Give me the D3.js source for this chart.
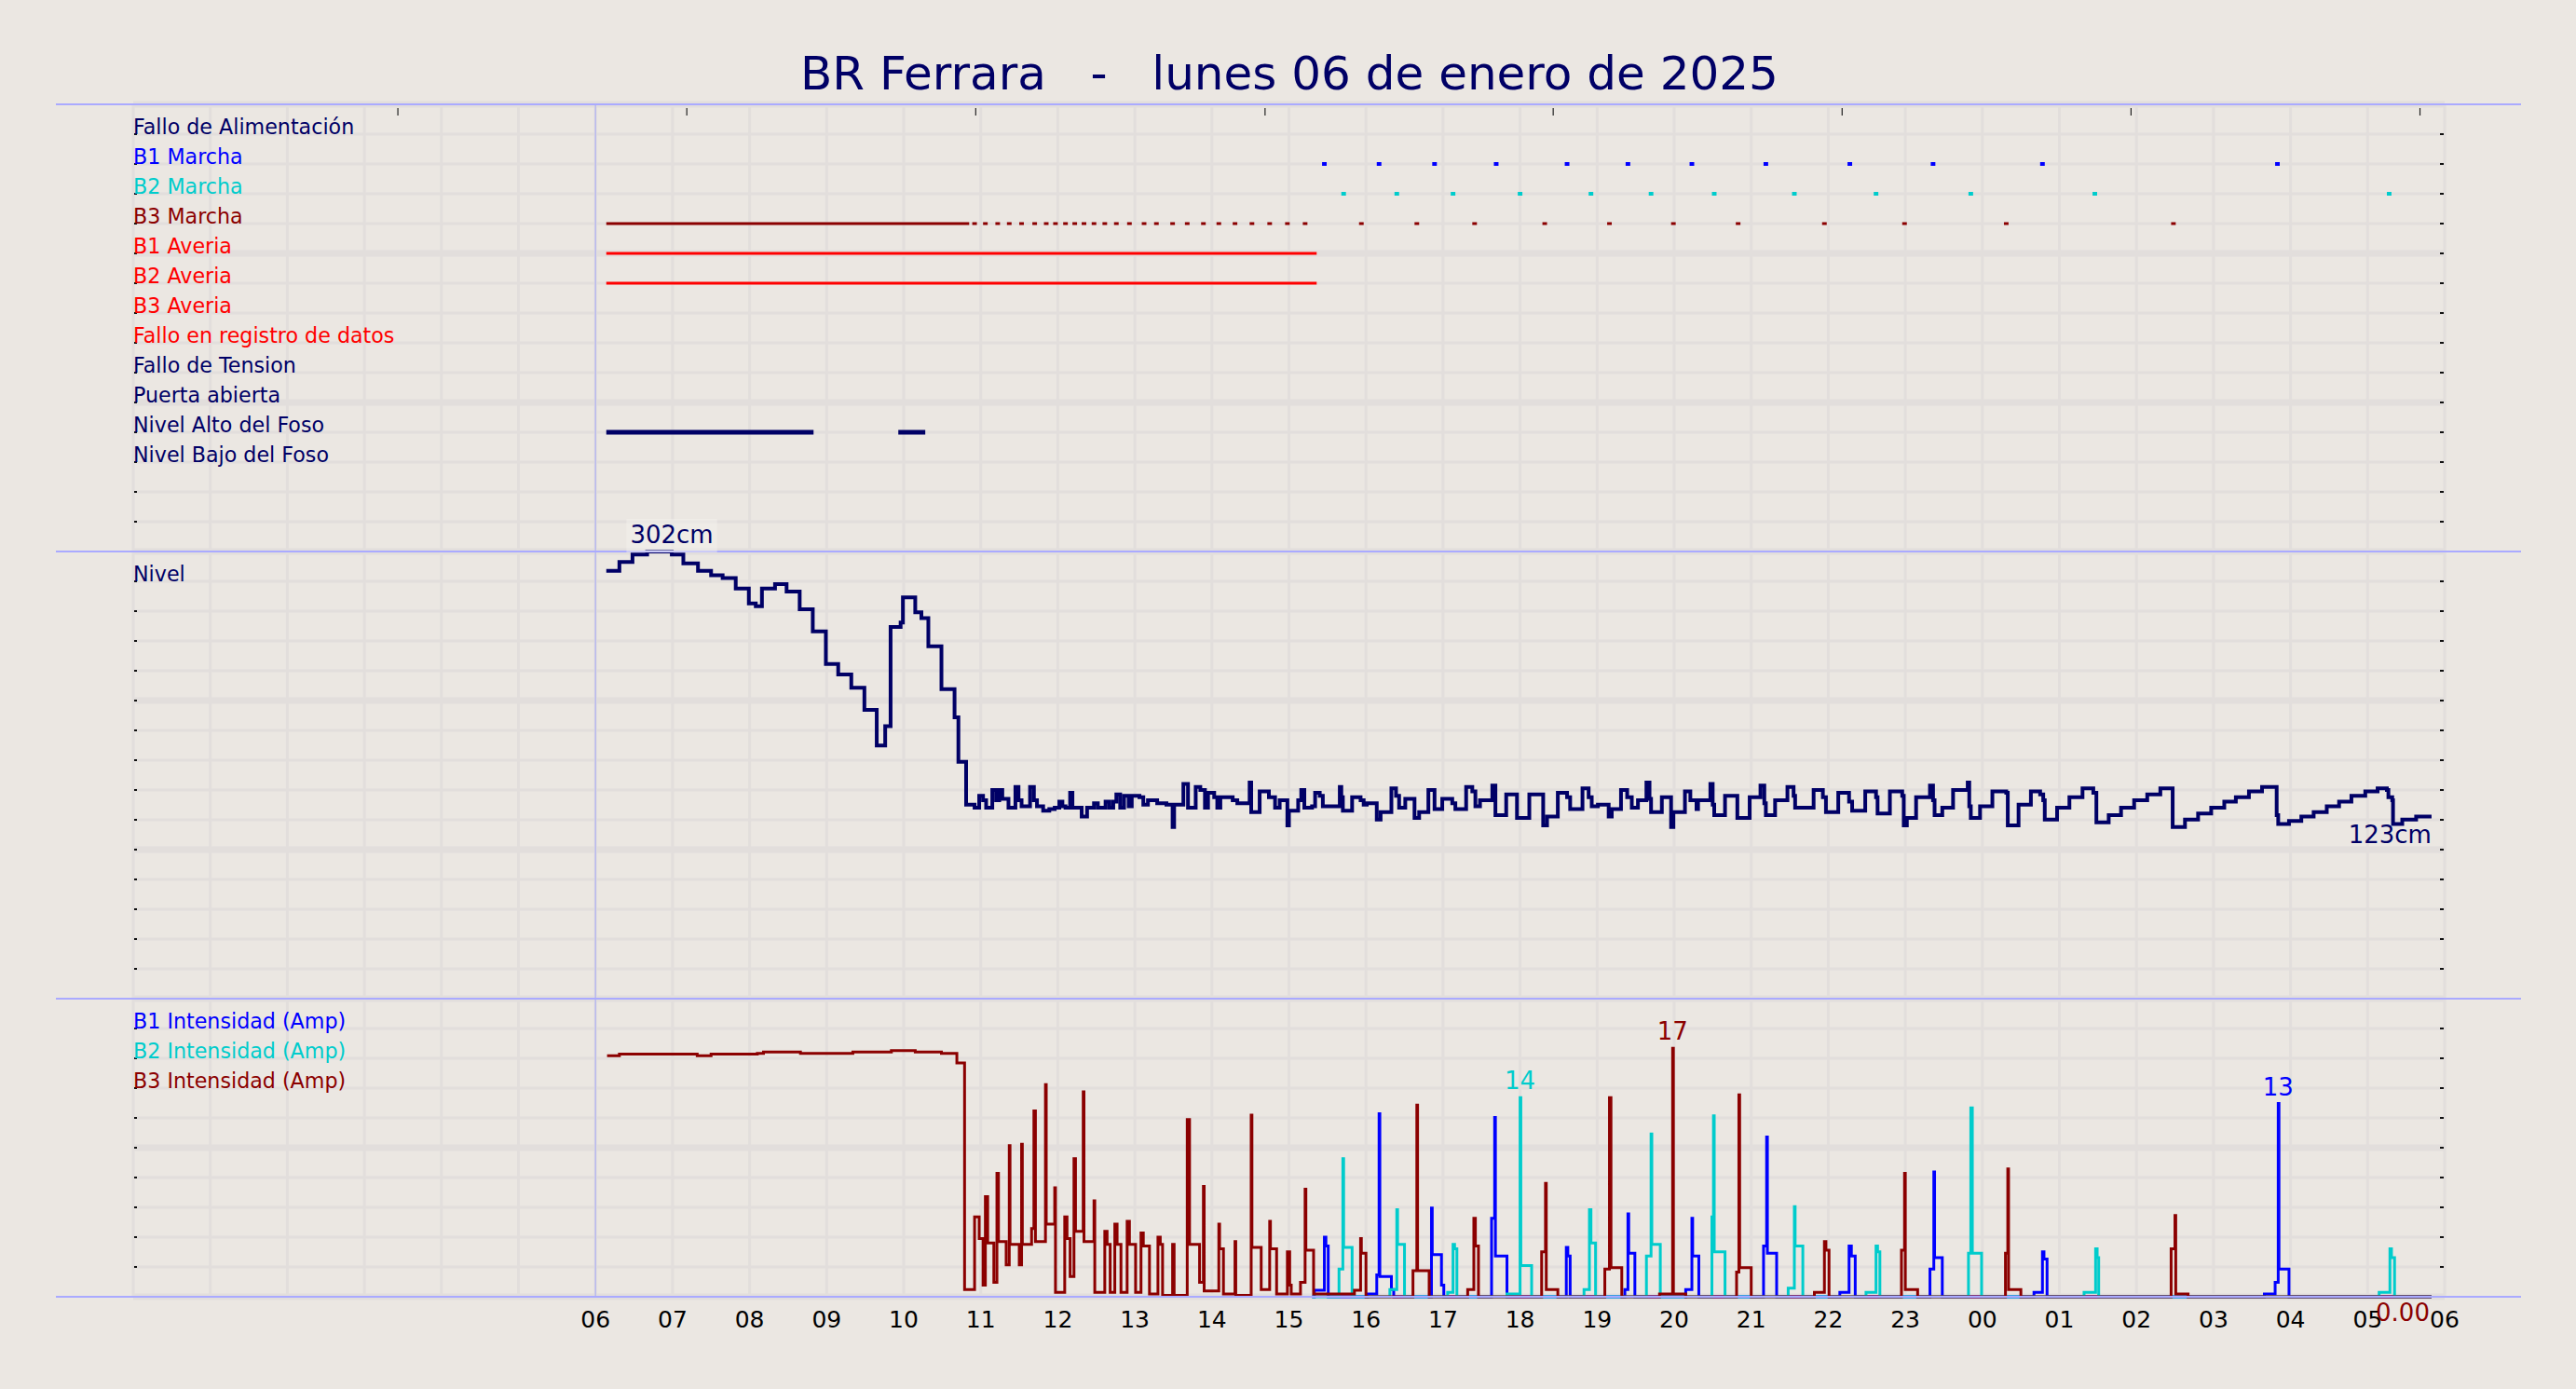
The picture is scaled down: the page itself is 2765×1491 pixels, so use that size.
<!DOCTYPE html>
<html><head><meta charset="utf-8">
<script src="https://cdn.jsdelivr.net/npm/d3@7"></script>
<style>
html,body{margin:0;padding:0;background:#ebe7e2;}
svg{display:block;font-family:"DejaVu Sans",sans-serif;}
</style></head><body>
<svg id="chart" width="2765" height="1491"></svg>
<script>
// ---------------- DATA ----------------
const titleText = "BR Ferrara   -   lunes 06 de enero de 2025";
const hourTickLabels = ["06","07","08","09","10","11","12","13","14","15","16","17","18","19","20","21","22","23","00","01","02","03","04","05","06"];
const hourTickValues = [6,7,8,9,10,11,12,13,14,15,16,17,18,19,20,21,22,23,24,25,26,27,28,29,30];
const topTickHours = [3.435, 7.185, 10.935, 14.69, 18.43, 22.18, 25.93, 29.68];

const statusLabels = ["Fallo de Alimentación","B1 Marcha","B2 Marcha","B3 Marcha","B1 Averia","B2 Averia","B3 Averia","Fallo en registro de datos","Fallo de Tension","Puerta abierta","Nivel Alto del Foso","Nivel Bajo del Foso"];
const levelLabels = ["Nivel"];
const currentLabels = ["B1 Intensidad (Amp)","B2 Intensidad (Amp)","B3 Intensidad (Amp)"];

// status intervals [start hour, end hour]
const b1Marcha = [[15.43,15.49],[16.14,16.20],[16.86,16.92],[17.66,17.72],[18.58,18.64],[19.37,19.43],[20.20,20.26],[21.16,21.22],[22.25,22.31],[23.33,23.39],[24.75,24.81],[27.80,27.86]];
const b2Marcha = [[15.68,15.74],[16.37,16.43],[17.10,17.16],[17.97,18.03],[18.89,18.95],[19.67,19.73],[20.49,20.55],[21.53,21.59],[22.59,22.65],[23.82,23.88],[25.43,25.49],[29.25,29.31]];
const b3Marcha = [[6.14,10.85],[10.89,10.95],[11.03,11.09],[11.19,11.25],[11.34,11.40],[11.50,11.56],[11.67,11.73],[11.82,11.88],[11.94,12.00],[12.07,12.13],[12.19,12.25],[12.31,12.37],[12.44,12.50],[12.58,12.64],[12.73,12.79],[12.90,12.96],[13.09,13.15],[13.25,13.31],[13.46,13.52],[13.65,13.71],[13.86,13.92],[14.06,14.12],[14.27,14.33],[14.49,14.55],[14.72,14.78],[14.95,15.01],[15.18,15.24],[15.91,15.97],[16.63,16.69],[17.38,17.44],[18.29,18.35],[19.13,19.19],[19.96,20.02],[20.80,20.86],[21.92,21.98],[22.96,23.02],[24.28,24.34],[26.45,26.51]];
const b1Averia = [[6.14,15.36]];
const b2Averia = [[6.14,15.36]];
const nivelAlto = [[6.14,8.83],[9.93,10.28]];

// level (cm) [hour, value]
const level = [[6.14,289],[6.31,295],[6.48,300],[6.67,302],[6.99,300],[7.14,294],[7.33,289],[7.50,286],[7.65,284],[7.82,277],[7.99,267],[8.08,265],[8.16,277],[8.33,280],[8.48,275],[8.65,263],[8.82,248],[8.99,226],[9.15,219],[9.32,210],[9.49,195],[9.65,171],[9.76,184],[9.83,251],[9.96,254],[9.99,271],[10.15,261],[10.23,257],[10.32,238],[10.49,209],[10.66,190],[10.71,160],[10.81,131],
[10.92,129],[10.98,137],[11.03,134],[11.07,129],[11.15,141],[11.20,134],[11.24,141],[11.28,135],[11.36,129],[11.45,143],[11.49,134],[11.53,130],[11.64,143],[11.69,134],[11.73,130],[11.81,127],[11.89,128],[11.96,129],[12.02,133],[12.06,130],[12.10,129],[12.16,139],[12.19,129],[12.31,123],[12.38,129],[12.47,132],[12.52,129],[12.62,133],[12.67,129],[12.72,133],[12.76,138],[12.81,129],[12.86,137],[12.92,130],[12.96,137],[13.06,136],[13.11,131],[13.17,134],[13.29,132],[13.41,131],[13.49,116],[13.51,131],[13.63,145],[13.69,129],[13.79,143],[13.85,141],[13.91,129],[13.95,139],[14.03,136],[14.07,129],[14.11,136],[14.27,134],[14.33,132],[14.49,146],[14.51,126],[14.62,140],[14.74,136],[14.82,129],[14.88,134],[14.98,117],[15.00,127],[15.12,134],[15.16,141],[15.20,129],[15.30,130],[15.34,139],[15.40,137],[15.44,130],
[15.66,143],[15.68,136],[15.70,127],[15.82,136],[15.93,134],[15.97,131],[16.01,132],[16.14,121],[16.19,126],[16.33,142],[16.39,137],[16.43,129],[16.51,135],[16.63,122],[16.69,126],[16.81,141],[16.89,128],[16.99,135],[17.12,132],[17.16,128],[17.30,143],[17.38,140],[17.42,130],[17.48,134],[17.64,144],[17.68,124],[17.82,138],[17.96,122],[18.12,138],[18.30,117],[18.35,123],[18.49,139],[18.61,136],[18.65,128],[18.81,142],[18.89,136],[18.93,130],[19.01,131],[19.15,123],[19.19,128],[19.31,141],[19.39,136],[19.45,129],[19.53,134],[19.64,146],[19.68,135],[19.70,126],[19.84,136],[19.96,116],[19.99,126],[20.14,140],[20.21,134],[20.29,128],[20.31,134],[20.47,145],[20.50,131],[20.52,124],[20.66,137],[20.82,122],[20.98,136],[21.12,144],[21.17,132],[21.19,124],[21.31,134],[21.47,143],[21.55,137],[21.57,129],[21.81,141],[21.93,136],[21.97,126],[22.13,139],[22.27,133],[22.31,127],[22.48,140],[22.62,136],[22.64,125],[22.80,140],[22.96,137],[22.98,117],[23.02,122],[23.14,136],[23.32,144],[23.36,134],[23.38,124],[23.48,129],[23.62,141],[23.81,146],[23.83,130],[23.85,122],[23.97,130],[24.13,140],[24.31,139],[24.33,117],[24.47,131],[24.63,140],[24.75,138],[24.79,134],[24.81,121],[24.97,129],[25.13,136],[25.30,142],[25.44,139],[25.48,119],[25.64,124],[25.80,129],[25.97,134],[26.14,138],[26.31,142],[26.47,116],[26.63,121],[26.80,125],[26.97,129],[27.14,133],[27.29,136],[27.46,140],[27.63,143],[27.82,124],[27.84,118],[27.98,120],[28.14,123],[28.30,126],[28.47,130],[28.63,133],[28.79,137],[28.97,140],[29.13,142],[29.25,141],[29.27,136],[29.32,134],[29.33,118],[29.45,121],[29.63,123],[29.83,123]];

// currents (A) [hour, value]
const b1Current = [[15.30,0],[15.33,0.45],[15.46,4.1],[15.48,3.5],[15.51,0],[16.02,0.2],[16.14,1.5],[16.17,12.6],[16.18,1.4],[16.33,0.5],[16.36,0],[16.85,6.1],[16.86,2.9],[16.98,0.8],[17.01,0],[17.63,5.4],[17.67,12.35],[17.68,2.8],[17.83,0],[18.60,3.4],[18.62,2.8],[18.65,0],[19.36,0.5],[19.40,5.7],[19.41,3.0],[19.49,0],[20.15,0.5],[20.23,5.4],[20.24,2.8],[20.32,0],[21.16,3.5],[21.20,11.0],[21.21,3.0],[21.33,0],[22.15,0.3],[22.27,3.5],[22.30,2.8],[22.35,0],[23.32,1.9],[23.37,8.6],[23.38,2.7],[23.48,0],[24.67,0.3],[24.78,3.1],[24.80,2.6],[24.84,0],[27.66,0.2],[27.80,1.0],[27.84,13.3],[27.85,1.9],[27.98,0],[29.83,0]];
const b2Current = [[15.30,0],[15.65,1.9],[15.70,9.5],[15.71,3.4],[15.82,0],[16.31,0.5],[16.40,6.0],[16.41,3.6],[16.50,0],[17.06,0.3],[17.13,3.6],[17.15,3.3],[17.18,0],[17.83,0.2],[18.00,13.7],[18.01,2.15],[18.15,0],[18.83,0.5],[18.90,6.0],[18.92,3.7],[18.98,0],[19.64,2.8],[19.70,11.2],[19.71,3.6],[19.82,0],[20.49,5.5],[20.51,12.45],[20.52,3.1],[20.66,0],[21.48,0.6],[21.56,6.2],[21.57,3.5],[21.67,0],[22.49,0.3],[22.62,3.5],[22.64,3.1],[22.67,0],[23.82,3.0],[23.85,13.0],[23.87,3.0],[23.99,0],[25.32,0.3],[25.47,3.3],[25.49,2.7],[25.51,0],[29.15,0.3],[29.29,3.3],[29.31,2.7],[29.35,0],[29.83,0]];
const b3Current = [[6.15,16.6],[6.31,16.7],[7.32,16.6],[7.50,16.7],[8.10,16.75],[8.18,16.85],[8.66,16.75],[9.34,16.85],[9.84,16.95],[10.15,16.85],[10.49,16.75],[10.69,16.1],[10.79,0.5],
[10.92,5.5],[10.98,4.0],[11.03,0.8],[11.06,6.9],[11.09,3.7],[11.17,1.0],[11.21,8.5],[11.23,3.8],[11.33,2.2],[11.37,10.4],[11.38,3.6],[11.50,2.2],[11.53,10.5],[11.54,3.6],[11.66,4.7],[11.69,12.8],[11.71,3.8],[11.84,14.6],[11.85,5.0],[11.96,7.5],[11.97,0.3],[12.09,5.5],[12.12,4.0],[12.16,1.4],[12.21,9.5],[12.23,4.5],[12.33,14.1],[12.34,3.8],[12.47,6.6],[12.48,0.3],[12.61,4.5],[12.64,3.6],[12.68,0.3],[12.74,5.0],[12.77,3.6],[12.82,0.3],[12.90,5.2],[12.93,3.6],[13.01,0.3],[13.08,4.4],[13.11,3.5],[13.19,0.2],[13.30,4.1],[13.33,3.6],[13.36,0.1],[13.49,3.6],[13.51,0.1],[13.68,12.2],[13.71,3.6],[13.84,1.0],[13.89,7.6],[13.90,0.4],[14.09,5.0],[14.10,3.3],[14.15,0.2],[14.30,3.8],[14.31,0.1],[14.51,12.5],[14.52,3.4],[14.64,0.5],[14.75,5.2],[14.76,3.3],[14.84,0.2],[14.98,3.1],[15.01,0.8],[15.03,0.2],[15.15,1.0],[15.21,7.4],[15.22,3.2],[15.32,0.2],
[15.85,0.45],[15.93,4.0],[15.94,3.0],[16.00,0],[16.61,1.8],[16.66,13.2],[16.67,1.8],[16.82,0],[17.32,0.5],[17.40,5.4],[17.42,3.5],[17.46,0],[18.28,3.1],[18.33,7.8],[18.34,0.5],[18.49,0],[19.10,1.9],[19.16,13.7],[19.18,2.0],[19.32,0],[19.81,0.2],[19.98,17.1],[19.99,0.2],[20.15,0],[20.81,1.7],[20.84,13.9],[20.85,2.0],[21.00,0],[21.82,0.3],[21.95,3.8],[21.97,3.2],[22.01,0],[22.95,3.2],[22.99,8.5],[23.00,0.5],[23.16,0],[24.30,3.0],[24.33,8.8],[24.34,0.5],[24.50,0],[26.45,3.3],[26.50,5.6],[26.51,0.2],[26.67,0],[29.83,0]];

// ---------------- STYLE ----------------
const C = {bg:"#ebe7e2", grid:"#e2dedc", navy:"#000066", blue:"#0000ff", cyan:"#00cccc", dred:"#8b0000", red:"#ff0000", divider:"#aaaaff"};
const statusColors = [C.navy,C.blue,C.cyan,C.dred,C.red,C.red,C.red,C.red,C.navy,C.navy,C.navy,C.navy];

const svg = d3.select("#chart");
const W = 2765, H = 1491;
const L = 143, R = 2624, TOP = 112, ROW = 32, NROWS = 40;
const rowY = k => TOP + ROW * k;
const x = d3.scaleLinear().domain([0, 30]).range([L, R]);

svg.append("rect").attr("width", W).attr("height", H).attr("fill", C.bg);

// grid
const g = svg.append("g");
g.selectAll("line.v").data(d3.range(0, 31)).join("line")
  .attr("x1", d => x(d)).attr("x2", d => x(d)).attr("y1", TOP).attr("y2", rowY(NROWS))
  .attr("stroke", C.grid).attr("stroke-width", 3);
g.selectAll("line.h").data(d3.range(0, NROWS + 1)).join("line")
  .attr("x1", L).attr("x2", R).attr("y1", d => rowY(d)).attr("y2", d => rowY(d))
  .attr("stroke", C.grid).attr("stroke-width", d => d % 5 === 0 ? 7 : 3);

// 06:00 marker line
svg.append("line").attr("x1", x(6)).attr("x2", x(6)).attr("y1", TOP).attr("y2", rowY(NROWS))
  .attr("stroke", "#b8b8ee").attr("stroke-width", 1.5);

// side ticks
const tickG = svg.append("g");
d3.range(1, NROWS).forEach(k => {
  const col = (k === 15 || k === 30) ? "#aaaaaa" : "#111";
  tickG.append("rect").attr("x", L + 1).attr("y", rowY(k) - 1).attr("width", 3).attr("height", 2).attr("fill", col);
  tickG.append("rect").attr("x", R - 5).attr("y", rowY(k) - 1).attr("width", 4).attr("height", 2).attr("fill", col);
});
// top ticks
tickG.selectAll("line.tt").data(topTickHours).join("line")
  .attr("x1", d => x(d)).attr("x2", d => x(d)).attr("y1", 116).attr("y2", 124)
  .attr("stroke", "#222").attr("stroke-width", 1.2);

// row labels
svg.append("g").selectAll("text").data(statusLabels).join("text")
  .attr("x", L).attr("y", (d, i) => rowY(i + 1)).attr("fill", (d, i) => statusColors[i])
  .attr("font-size", 22.2).text(d => d);
svg.append("text").attr("x", L).attr("y", rowY(16)).attr("fill", C.navy).attr("font-size", 22.2).text(levelLabels[0]);
svg.append("g").selectAll("text").data(currentLabels).join("text")
  .attr("x", L).attr("y", (d, i) => rowY(31 + i)).attr("fill", (d, i) => [C.blue, C.cyan, C.dred][i])
  .attr("font-size", 22.2).text(d => d);

// status bars
function bars(data, row, color, width) {
  svg.append("g").selectAll("line").data(data).join("line")
    .attr("x1", d => x(d[0])).attr("x2", d => x(d[1]))
    .attr("y1", rowY(row)).attr("y2", rowY(row))
    .attr("stroke", color).attr("stroke-width", width);
}
bars(b1Marcha, 2, C.blue, 4);
bars(b2Marcha, 3, C.cyan, 4);
bars(b3Marcha, 4, C.dred, 3);
bars(b1Averia, 5, C.red, 3);
bars(b2Averia, 6, C.red, 3);
bars(nivelAlto, 11, C.navy, 5);

// level panel
const levelMax = d3.max(level, d => d[1]);
const yL = d3.scaleLinear().domain([0, levelMax]).range([rowY(30), rowY(15)]);
svg.append("path").datum(level)
  .attr("d", d3.line().x(d => x(d[0])).y(d => yL(d[1])).curve(d3.curveStepAfter))
  .attr("fill", "none").attr("stroke", C.navy).attr("stroke-width", 4);

// current panel
const curMax = d3.max([b1Current, b2Current, b3Current], s => d3.max(s, d => d[1]));
const yI = d3.scaleLinear().domain([0, curMax * 1.2]).range([rowY(40), rowY(30)]);
const curLine = d3.line().x(d => x(d[0])).y(d => yI(d[1])).curve(d3.curveStepAfter);
[[b1Current, C.blue], [b2Current, C.cyan], [b3Current, C.dred]].forEach(([s, col]) => {
  svg.append("path").datum(s).attr("d", curLine).attr("fill", "none")
    .attr("stroke", col).attr("stroke-width", 3);
});

// panel dividers
svg.selectAll("line.div").data([0, 15, 30, 40]).join("line")
  .attr("x1", 60).attr("x2", 2706).attr("y1", d => rowY(d)).attr("y2", d => rowY(d))
  .attr("stroke", C.divider).attr("stroke-width", 2);

// annotations
const iMax = level.findIndex(d => d[1] === levelMax);
const maxLblX = x(level[Math.min(iMax + 1, level.length - 1)][0]);
const maxTxt = svg.append("text").attr("x", maxLblX).attr("y", yL(levelMax) - 9)
  .attr("text-anchor", "middle").attr("font-size", 26).attr("fill", C.navy).text(levelMax + "cm");
const bb = maxTxt.node().getBBox();
svg.insert("rect", () => maxTxt.node()).attr("x", bb.x - 4).attr("y", bb.y - 2).attr("width", bb.width + 8).attr("height", bb.height + 6)
  .attr("fill", "#f4f1ee").attr("opacity", 0.45);
const lastL = level[level.length - 1];
svg.append("text").attr("x", x(lastL[0])).attr("y", yL(lastL[1]) + 28)
  .attr("text-anchor", "end").attr("font-size", 26).attr("fill", C.navy).text(lastL[1] + "cm");

[[b1Current, C.blue], [b2Current, C.cyan], [b3Current, C.dred]].forEach(([s, col]) => {
  const m = s.reduce((a, b) => b[1] > a[1] ? b : a);
  svg.append("text").attr("x", x(m[0])).attr("y", yI(m[1]) - 9).attr("text-anchor", "middle")
    .attr("font-size", 26).attr("fill", col).text(d3.format(".0f")(m[1]));
});

// x axis labels
svg.append("g").selectAll("text").data(hourTickValues).join("text")
  .attr("x", d => x(d)).attr("y", 1425).attr("text-anchor", "middle")
  .attr("font-size", 25).attr("fill", "#000").text((d, i) => hourTickLabels[i]);

const lastB3 = b3Current[b3Current.length - 1];
svg.append("text").attr("x", x(lastB3[0]) - 2).attr("y", yI(lastB3[1]) + 26)
  .attr("text-anchor", "end").attr("font-size", 26).attr("fill", C.dred).text(d3.format(".2f")(lastB3[1]));

// title
svg.append("text").attr("x", 1384).attr("y", 96).attr("text-anchor", "middle")
  .attr("font-size", 50).attr("fill", C.navy).style("white-space", "pre").text(titleText);
</script>
</body></html>
